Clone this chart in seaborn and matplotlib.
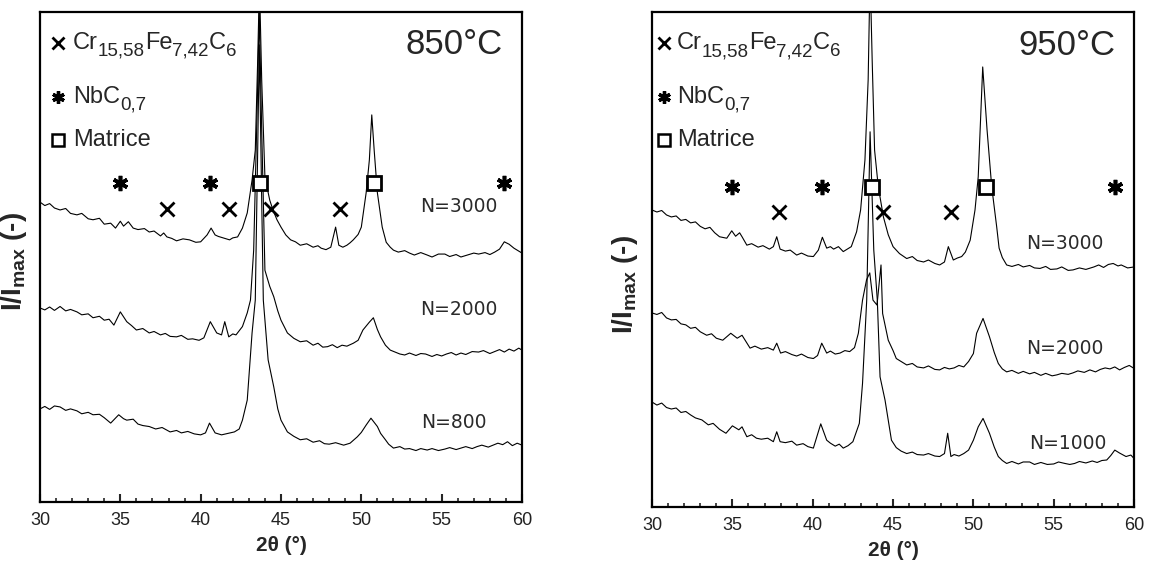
import numpy as np
import matplotlib
matplotlib.use("Agg")
import matplotlib.pyplot as plt
import seaborn as sns
from matplotlib.ticker import MultipleLocator, NullLocator

sns.set_style("white")
plt.rcParams["font.family"] = ["Liberation Sans", "DejaVu Sans"]
plt.rcParams["mathtext.fontset"] = "custom"
plt.rcParams["mathtext.rm"] = "Liberation Sans"
plt.rcParams["mathtext.it"] = "Liberation Sans:italic"
plt.rcParams["mathtext.bf"] = "Liberation Sans:bold"

# ---- 850 °C patterns (2theta in deg, intensity in arbitrary units) ----
tt_850_3000 = [30.0, 30.3, 30.6, 30.9, 31.25, 31.6, 31.9, 32.3, 32.6, 33.0,
               33.3, 33.7, 34.0, 34.4, 34.7, 35.0, 35.2, 35.5, 35.8, 36.1,
               36.5, 36.8, 37.1, 37.5, 37.7, 37.9, 38.2, 38.5, 38.9, 39.3,
               39.7, 40.0, 40.4, 40.65, 40.9, 41.1, 41.4, 41.8, 42.0, 42.3,
               42.6, 42.9, 43.2, 43.4, 43.55, 43.66, 43.8, 44.0, 44.3, 44.5,
               44.75, 45.0, 45.3, 45.6, 45.9, 46.2, 46.6, 47.0, 47.3, 47.5,
               47.8, 48.1, 48.4, 48.6, 48.85, 49.1, 49.3, 49.5, 49.8, 50.0,
               50.3, 50.5, 50.65, 50.8, 51.0, 51.3, 51.55, 51.8, 52.0, 52.3,
               52.7, 53.0, 53.3, 53.7, 54.1, 54.4, 54.8, 55.2, 55.5, 55.9,
               56.2, 56.6, 57.0, 57.3, 57.7, 58.0, 58.3, 58.6, 58.9, 59.2,
               59.5, 59.8, 60.0]
i_850_3000 = [61.2, 60.5, 60.9, 60.0, 59.6, 59.9, 58.9, 58.6, 58.9, 57.8,
              57.6, 57.9, 56.7, 56.9, 55.9, 57.3, 56.3, 57.2, 55.9, 55.6,
              55.8, 55.1, 55.3, 54.3, 54.9, 54.1, 53.8, 53.3, 53.7, 53.5,
              53.0, 53.1, 54.5, 55.9, 54.5, 54.2, 53.9, 53.5, 53.9, 54.1,
              55.9, 59.0, 65.7, 71.8, 90.2, 106.0, 86.1, 66.3, 61.6, 59.6,
              57.6, 56.1, 54.5, 53.5, 53.1, 52.4, 52.7, 52.0, 52.3, 51.8,
              51.5, 52.0, 56.1, 52.4, 52.0, 52.4, 52.9, 53.5, 54.6, 56.1,
              63.1, 69.8, 79.0, 71.8, 63.1, 56.1, 53.0, 52.0, 51.4, 51.0,
              51.3, 50.8, 50.4, 50.9, 50.4, 50.0, 50.6, 50.6, 50.1, 50.5,
              50.0, 50.4, 50.8, 50.6, 50.9, 50.5, 51.0, 51.6, 53.1, 52.6,
              51.8, 51.2, 50.8]

tt_850_2000 = [30.0, 30.3, 30.6, 30.9, 31.25, 31.6, 31.9, 32.3, 32.6, 33.0,
               33.3, 33.7, 34.0, 34.3, 34.6, 35.0, 35.4, 35.7, 36.0, 36.4,
               36.8, 37.1, 37.5, 37.8, 38.1, 38.5, 38.8, 39.2, 39.5, 39.9,
               40.2, 40.6, 41.0, 41.3, 41.5, 41.75, 42.0, 42.2, 42.6, 42.9,
               43.1, 43.3, 43.5, 43.65, 43.8, 44.0, 44.3, 44.55, 44.8, 45.0,
               45.4, 45.8, 46.2, 46.6, 47.0, 47.3, 47.6, 47.9, 48.2, 48.5,
               48.8, 49.1, 49.5, 49.8, 50.1, 50.5, 50.75, 51.0, 51.2, 51.5,
               51.8, 52.1, 52.4, 52.7, 53.0, 53.4, 53.7, 54.0, 54.4, 54.7,
               55.0, 55.3, 55.6, 55.9, 56.2, 56.5, 56.9, 57.3, 57.6, 58.0,
               58.3, 58.6, 58.9, 59.2, 59.5, 59.8, 60.0]
i_850_2000 = [39.6, 39.2, 39.8, 39.1, 39.9, 39.0, 39.3, 38.8, 38.2, 38.4,
              37.6, 37.9, 37.1, 37.3, 36.1, 38.8, 36.8, 36.0, 35.1, 35.4,
              34.5, 34.8, 34.1, 34.4, 33.8, 33.7, 34.0, 33.2, 33.3, 33.0,
              33.5, 36.8, 34.5, 34.1, 36.8, 33.7, 34.3, 34.1, 35.8, 38.6,
              41.2, 51.4, 78.0, 100.0, 75.9, 47.3, 44.0, 41.9, 39.0, 37.1,
              34.5, 33.4, 32.7, 32.9, 32.0, 32.4, 31.6, 31.7, 32.1, 31.5,
              32.0, 31.8, 32.4, 33.0, 35.1, 36.7, 37.6, 35.2, 33.7, 32.0,
              31.0, 30.6, 30.2, 30.0, 30.4, 29.9, 30.3, 30.2, 29.7, 30.1,
              29.8, 30.2, 30.5, 30.0, 30.4, 30.1, 30.7, 30.6, 30.9, 30.3,
              30.7, 31.1, 30.6, 31.2, 30.8, 31.4, 31.0]

tt_850_800 = [30.0, 30.3, 30.6, 30.9, 31.25, 31.6, 31.9, 32.3, 32.6, 33.0,
              33.3, 33.7, 34.0, 34.4, 34.9, 35.2, 35.4, 35.8, 36.1, 36.4,
              36.8, 37.2, 37.6, 38.1, 38.5, 38.8, 39.2, 39.6, 40.0, 40.3,
              40.55, 40.9, 41.1, 41.3, 41.7, 42.1, 42.4, 42.6, 42.9, 43.2,
              43.4, 43.55, 43.65, 43.8, 43.9, 44.2, 44.55, 44.8, 45.0, 45.4,
              45.8, 46.2, 46.6, 47.0, 47.4, 47.7, 48.0, 48.4, 48.9, 49.3,
              49.75, 50.0, 50.3, 50.6, 51.0, 51.2, 51.5, 51.7, 52.0, 52.4,
              52.7, 53.0, 53.4, 53.7, 54.1, 54.4, 54.8, 55.2, 55.5, 55.9,
              56.2, 56.5, 56.9, 57.2, 57.5, 57.9, 58.2, 58.5, 58.8, 59.1,
              59.4, 59.7, 60.0]
i_850_800 = [19.0, 19.5, 18.9, 19.6, 19.4, 18.7, 19.0, 18.6, 18.0, 18.3,
             17.8, 17.9, 17.2, 16.1, 17.8, 17.0, 16.7, 16.9, 15.9, 15.6,
             15.4, 14.9, 15.2, 14.3, 14.6, 14.1, 14.4, 13.9, 13.7, 14.1,
             16.1, 14.1, 13.9, 13.7, 14.0, 14.3, 14.9, 16.7, 20.8, 34.5,
             41.2, 71.8, 93.3, 61.6, 41.2, 29.0, 23.5, 19.0, 16.7, 14.3,
             13.4, 12.7, 12.9, 12.2, 12.5, 11.9, 11.8, 12.1, 11.6, 12.0,
             13.3, 14.2, 15.7, 17.1, 15.4, 14.0, 12.7, 11.8, 11.0, 11.3,
             10.8, 10.9, 10.5, 10.9, 10.6, 10.9, 10.5, 10.8, 11.1, 10.7,
             11.0, 11.3, 10.9, 11.3, 11.6, 11.2, 11.6, 12.0, 11.7, 12.3,
             11.5, 12.0, 11.6]

# ---- 950 °C patterns ----
tt_950_3000 = [30.0, 30.3, 30.6, 30.9, 31.2, 31.5, 31.8, 32.1, 32.4, 32.7,
               33.0, 33.3, 33.6, 33.9, 34.2, 34.65, 34.96, 35.2, 35.45, 35.6,
               35.9, 36.2, 36.6, 36.9, 37.3, 37.55, 37.76, 37.97, 38.3, 38.6,
               39.0, 39.3, 39.7, 40.04, 40.35, 40.6, 40.87, 41.1, 41.3, 41.6,
               41.9, 42.2, 42.4, 42.73, 42.98, 43.25, 43.45, 43.57, 43.7, 43.85,
               44.08, 44.4, 44.7, 45.0, 45.4, 45.85, 46.2, 46.5, 46.9, 47.2,
               47.6, 47.9, 48.2, 48.44, 48.75, 49.0, 49.27, 49.5, 49.8, 50.1,
               50.3, 50.58, 50.85, 51.14, 51.45, 51.6, 51.8, 52.07, 52.4, 52.8,
               53.1, 53.5, 53.8, 54.15, 54.5, 54.8, 55.2, 55.5, 55.9, 56.2,
               56.6, 57.0, 57.5, 57.8, 58.1, 58.4, 58.7, 59.0, 59.2, 59.6,
               60.0]
i_950_3000 = [60.0, 59.6, 59.9, 59.0, 58.6, 58.8, 57.9, 58.1, 57.4, 57.6,
              56.7, 56.2, 56.5, 55.4, 54.6, 54.3, 55.8, 54.7, 55.4, 54.6,
              52.9, 53.2, 52.5, 52.8, 52.1, 52.6, 54.6, 52.1, 51.7, 51.9,
              50.9, 51.3, 50.7, 50.6, 51.9, 54.5, 52.3, 52.6, 52.1, 52.6,
              51.6, 52.2, 52.6, 55.6, 60.0, 70.1, 86.3, 108.0, 90.3, 72.1,
              64.7, 58.6, 55.0, 52.6, 51.2, 50.2, 50.6, 49.8, 49.5, 49.9,
              49.2, 48.9, 49.5, 52.6, 49.9, 50.3, 50.6, 51.5, 53.9, 60.0,
              66.7, 88.9, 76.2, 64.7, 56.6, 52.3, 50.4, 48.9, 48.6, 49.0,
              48.5, 48.8, 48.3, 48.2, 48.6, 48.0, 48.1, 48.5, 47.8, 47.9,
              48.3, 48.0, 48.5, 48.9, 48.4, 49.0, 49.2, 48.7, 48.9, 48.3,
              48.5]

tt_950_2000 = [30.0, 30.3, 30.6, 30.9, 31.2, 31.5, 31.8, 32.1, 32.4, 32.7,
               33.0, 33.4, 33.7, 34.0, 34.4, 34.9, 35.3, 35.6, 36.1, 36.4,
               36.8, 37.2, 37.55, 37.76, 38.0, 38.3, 38.7, 39.0, 39.3, 39.7,
               40.04, 40.3, 40.56, 40.87, 41.1, 41.4, 41.7, 42.0, 42.3, 42.6,
               42.84, 43.1, 43.35, 43.55, 43.75, 44.0, 44.25, 44.35, 44.7, 45.0,
               45.2, 45.5, 45.85, 46.2, 46.5, 46.9, 47.2, 47.6, 47.9, 48.2,
               48.5, 48.8, 49.1, 49.4, 49.7, 50.0, 50.2, 50.6, 51.0, 51.3,
               51.55, 51.8, 52.07, 52.4, 52.8, 53.1, 53.5, 53.8, 54.2, 54.5,
               54.9, 55.2, 55.5, 55.9, 56.2, 56.5, 56.9, 57.25, 57.6, 57.9,
               58.2, 58.5, 58.8, 59.1, 59.4, 59.7, 60.0]
i_950_2000 = [39.2, 38.9, 39.3, 38.2, 37.8, 37.9, 37.0, 36.8, 36.1, 36.3,
              35.4, 34.7, 35.0, 34.1, 33.7, 35.1, 34.1, 34.7, 32.1, 32.5,
              31.9, 32.2, 31.7, 33.1, 31.1, 31.4, 30.8, 30.5, 30.9, 30.2,
              30.0, 30.6, 33.1, 31.1, 31.5, 30.9, 31.1, 31.6, 31.4, 32.2,
              35.1, 41.8, 45.9, 47.3, 41.8, 40.8, 48.9, 39.1, 33.7, 31.6,
              30.0, 29.4, 28.7, 29.0, 28.3, 28.1, 28.5, 27.8, 27.7, 28.2,
              27.9, 28.1, 28.6, 28.3, 29.4, 31.0, 35.1, 38.1, 34.4, 31.2,
              29.0, 27.9, 27.3, 27.6, 27.0, 27.4, 26.9, 27.2, 26.6, 27.0,
              26.5, 26.7, 27.0, 26.8, 27.1, 27.5, 27.2, 27.7, 27.3, 27.8,
              28.1, 27.9, 28.3, 27.7, 28.2, 28.6, 28.0]

tt_950_1000 = [30.0, 30.3, 30.6, 30.9, 31.2, 31.5, 31.8, 32.1, 32.4, 32.7,
               33.1, 33.5, 33.8, 34.2, 34.6, 35.0, 35.4, 35.6, 35.9, 36.2,
               36.5, 36.8, 37.2, 37.55, 37.76, 37.97, 38.3, 38.7, 39.0, 39.4,
               39.7, 40.04, 40.5, 40.87, 41.1, 41.4, 41.65, 41.9, 42.2, 42.5,
               42.9, 43.1, 43.36, 43.57, 43.8, 44.02, 44.19, 44.5, 44.9, 45.2,
               45.5, 45.85, 46.2, 46.5, 46.9, 47.2, 47.6, 47.9, 48.2, 48.4,
               48.6, 48.8, 49.1, 49.4, 49.7, 50.0, 50.3, 50.6, 51.0, 51.3,
               51.55, 51.8, 52.07, 52.4, 52.8, 53.1, 53.5, 53.8, 54.2, 54.6,
               55.0, 55.3, 55.7, 56.0, 56.3, 56.6, 57.0, 57.4, 57.7, 58.0,
               58.3, 58.55, 58.8, 59.1, 59.5, 59.8, 60.0]
i_950_1000 = [21.2, 20.6, 21.0, 20.1, 19.8, 20.0, 19.1, 19.3, 18.6, 18.0,
              17.6, 16.6, 16.9, 15.7, 14.9, 16.4, 15.6, 16.2, 14.2, 14.6,
              13.9, 13.7, 13.9, 13.2, 15.2, 13.2, 13.0, 13.3, 12.5, 12.8,
              12.2, 11.9, 16.8, 13.5, 12.9, 12.3, 12.7, 11.9, 12.4, 13.2,
              16.9, 25.0, 41.8, 75.8, 51.9, 41.8, 26.3, 21.6, 13.5, 12.0,
              11.3, 10.8, 11.1, 10.6, 10.5, 10.8, 10.3, 10.2, 10.8, 14.9,
              10.2, 10.6, 10.3, 10.8, 11.5, 13.5, 16.2, 17.9, 14.9, 12.1,
              10.2, 9.4, 8.8, 9.2, 8.7, 9.1, 9.1, 8.6, 9.0, 8.6,
              8.7, 9.1, 8.8, 8.6, 8.8, 9.2, 8.9, 9.3, 9.0, 9.4,
              9.5, 10.4, 11.5, 10.9, 10.2, 10.5, 9.8]

# ---- phase markers (2theta positions) ----
carbide_850 = [37.9, 41.75, 44.35, 48.7]
nbc_850 = [35.0, 40.6, 58.85]
matrix_850 = [43.7, 50.8]
carbide_950 = [37.92, 44.4, 48.6]
nbc_950 = [34.96, 40.56, 58.8]
matrix_950 = [43.67, 50.77]

legend_carbide = [("Cr", False), ("15,58", True), ("Fe", False), ("7,42", True), ("C", False), ("6", True)]
legend_nbc = [("NbC", False), ("0,7", True)]


def chem_text(ax, x, y, parts, size=17, sub_size=13.5):
    # normal/subscript pieces chained one after another
    first = ax.text(x, y, parts[0][0], transform=ax.transAxes, fontsize=size, va="center", ha="left")
    prev = first
    for s, sub in parts[1:]:
        prev = ax.annotate(s, xy=(1, 0), xycoords=(prev, first), xytext=(0, -4.2 if sub else 0),
                           textcoords="offset points", fontsize=sub_size if sub else size,
                           va="bottom", ha="left")
    return first


fig = plt.figure(figsize=(11.49, 5.72), dpi=100)
ax1 = fig.add_axes([0.0348, 0.1224, 0.4195, 0.8566])
ax2 = fig.add_axes([0.5675, 0.1136, 0.4195, 0.8654])

panels = [
    (ax1, "850°C",
     [(tt_850_3000, i_850_3000, "N=3000", 56.08, 60.4),
      (tt_850_2000, i_850_2000, "N=2000", 56.08, 39.2),
      (tt_850_800, i_850_800, "N=800", 55.76, 16.3)],
     carbide_850, nbc_850, matrix_850, (65.1, 59.8), 0.037, 0.068,
     [0.937, 0.827, 0.739], (-0.022, 0.49)),
    (ax2, "950°C",
     [(tt_950_3000, i_950_3000, "N=3000", 55.7, 53.3),
      (tt_950_2000, i_950_2000, "N=2000", 55.7, 32.1),
      (tt_950_1000, i_950_1000, "N=1000", 55.9, 12.9)],
     carbide_950, nbc_950, matrix_950, (64.6, 59.7), 0.025, 0.052,
     [0.937, 0.828, 0.741], (-0.024, 0.45)),
]

for ax, temp, curves, carb, nbc, mat, rows, mx, tx, ly, ylab in panels:
    for tt, inten, lab, lx, lyy in curves:
        sns.lineplot(x=tt, y=inten, ax=ax, color="black", lw=0.8, sort=False, estimator=None)
        ax.text(lx, lyy, lab, fontsize=13.5, ha="center", va="center", color="#2a2a2a",
                family="DejaVu Sans")

    ax.plot(nbc, [rows[0]] * len(nbc), ls="none", marker=(6, 2, 0), ms=11, mew=2.6,
            color="black", zorder=4)
    ax.plot(mat, [rows[0]] * len(mat), ls="none", marker="s", ms=10, mew=2,
            mfc="white", mec="black", zorder=4)
    ax.plot(carb, [rows[1]] * len(carb), ls="none", marker="x", ms=10, mew=2,
            color="black", zorder=4)

    # legend drawn by hand
    ax.plot([mx], [ly[0]], transform=ax.transAxes, marker="x", ms=8, mew=2, color="black", ls="none")
    ax.plot([mx], [ly[1]], transform=ax.transAxes, marker=(6, 2, 0), ms=9, mew=2.4, color="black", ls="none")
    ax.plot([mx], [ly[2]], transform=ax.transAxes, marker="s", ms=9, mew=1.8, mfc="white",
            mec="black", ls="none")
    chem_text(ax, tx, ly[0], legend_carbide)
    chem_text(ax, tx, ly[1], legend_nbc)
    ax.text(tx, ly[2], "Matrice", transform=ax.transAxes, fontsize=17, va="center", ha="left")

    ax.text(0.86, 0.933, temp, transform=ax.transAxes, fontsize=25, ha="center", va="center")

    ax.set_xlim(30, 60)
    ax.set_ylim(0, 100)
    ax.xaxis.set_major_locator(MultipleLocator(5))
    ax.xaxis.set_minor_locator(MultipleLocator(1))
    ax.yaxis.set_major_locator(NullLocator())
    ax.tick_params(axis="x", which="major", direction="in", length=6, width=1.5,
                   labelsize=13, pad=7, top=False, labelcolor="#222222")
    ax.tick_params(axis="x", which="minor", direction="in", length=3, width=1.2, top=False)
    ax.tick_params(axis="x", which="both", bottom=True)
    for sp in ax.spines.values():
        sp.set_linewidth(1.6)
        sp.set_color("black")
    ax.set_xlabel("2θ (°)", fontsize=15, fontweight="bold", labelpad=5)
    ax.set_ylabel(r"I/I$_{\mathbf{max}}$ (-)", fontsize=20, fontweight="bold")
    ax.yaxis.set_label_coords(*ylab)

fig.savefig("out.png", dpi=100)
